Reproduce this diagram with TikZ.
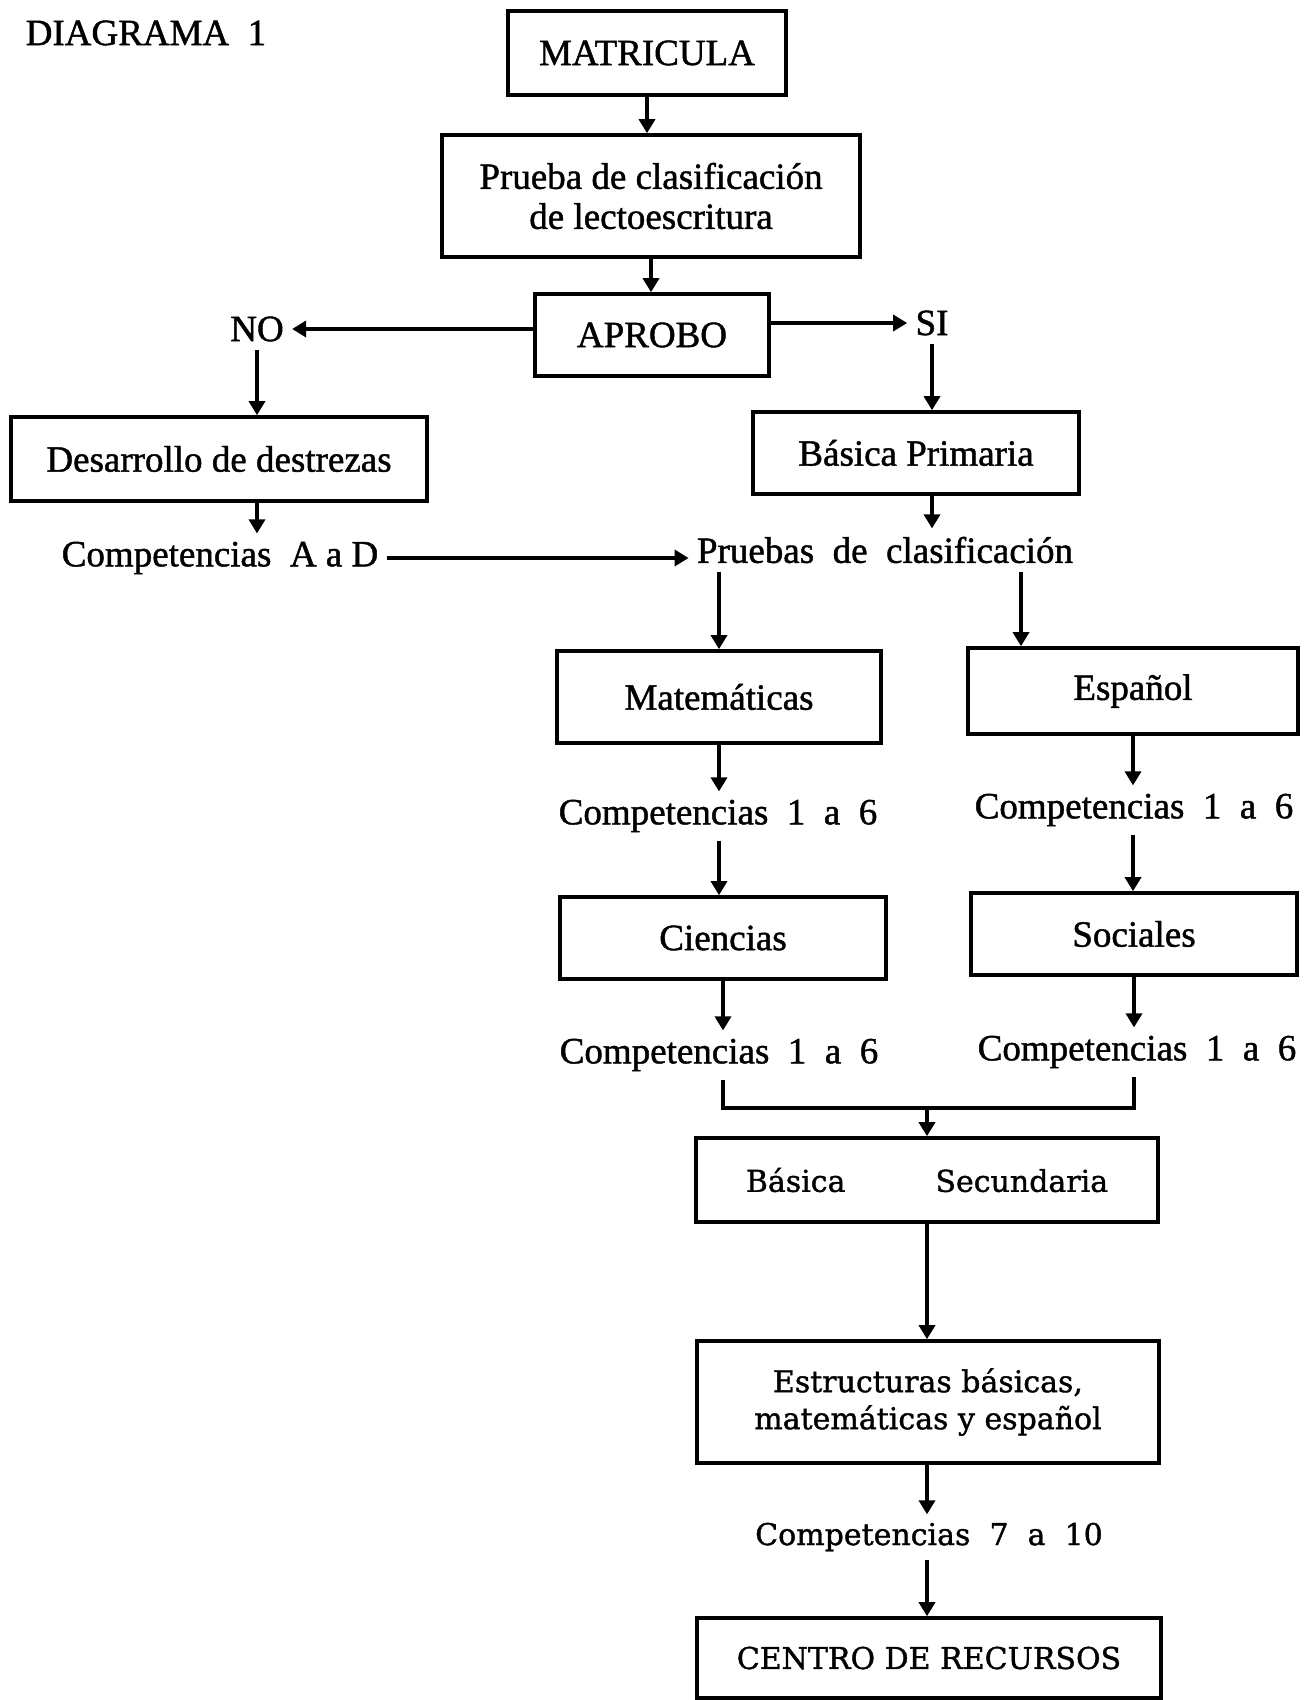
\documentclass[tikz,border=0pt]{standalone}
\usepackage{fontspec}
\setmainfont{Liberation Serif}
\newfontfamily\timesfont{Liberation Serif}[FakeBold=1.2]
\newfontfamily\schoolfont{DejaVu Serif}[FakeBold=1.2]
\usetikzlibrary{arrows.meta}
\tikzset{
  box/.style={draw, line width=1.8pt, align=center, inner sep=0pt},
  arr/.style={line width=1.7pt, -{Triangle[length=7pt,width=8pt]}},
  lbl/.style={inner sep=4pt},
  tfont/.style={font=\timesfont\fontsize{18.5}{20}\selectfont},
  cfont/.style={font=\schoolfont\fontsize{15}{18.5}\selectfont}
}
\begin{document}
\begin{tikzpicture}[x=0.5pt,y=-0.5pt]
  \useasboundingbox (0,0) rectangle (1314,1700);
  \node[tfont] (titulo) at (146,33) {DIAGRAMA\ \ 1};
  % tronco
  \node[box,tfont,minimum width=139pt,minimum height=42pt] (matri) at (647,53) {MATRICULA};
  \node[box,tfont,minimum width=209pt,minimum height=61pt] (prueba) at (651,196)
    {Prueba de clasificación\\de lectoescritura};
  \node[box,tfont,minimum width=117pt,minimum height=41pt] (aprobo) at (652,335) {APROBO};
  \node[lbl,tfont] (no) at (257,329) {NO};
  \node[lbl,tfont] (si) at (932,323) {SI};
  % rama NO
  \node[box,tfont,minimum width=208pt,minimum height=42pt] (desarrollo) at (219,459) {Desarrollo de destrezas};
  \node[lbl,tfont] (compad) at (220,558) {Competencias\ \ A a D};
  % rama SI
  \node[box,tfont,minimum width=163pt,minimum height=41pt] (primaria) at (916,453) {Básica Primaria};
  \node[lbl,tfont] (pruebas) at (885,550) {Pruebas\ \ de\ \ clasificación};
  \node[box,tfont,minimum width=162pt,minimum height=46pt] (mate) at (719,697) {Matemáticas};
  \node[box,tfont,minimum width=165pt,minimum height=43pt] (espa) at (1133,691) {Español};
  \node[lbl,tfont] (compl1) at (718,816) {Competencias\ \ 1\ \ a\ \ 6};
  \node[lbl,tfont] (compr1) at (1134,810) {Competencias\ \ 1\ \ a\ \ 6};
  \node[box,tfont,minimum width=163pt,minimum height=41pt] (cien) at (723,938) {Ciencias};
  \node[box,tfont,minimum width=163pt,minimum height=41pt] (soci) at (1134,934) {Sociales};
  \node[lbl,tfont] (compl2) at (719,1055) {Competencias\ \ 1\ \ a\ \ 6};
  \node[lbl,tfont] (compr2) at (1137,1052) {Competencias\ \ 1\ \ a\ \ 6};
  % secundaria
  \node[box,cfont,minimum width=231pt,minimum height=42pt] (secund) at (927,1180)
    {Básica\hspace{45pt}Secundaria};
  \node[box,cfont,minimum width=231pt,minimum height=61pt] (estruc) at (928,1402)
    {Estructuras básicas,\\matemáticas y español};
  \node[lbl,cfont] (comp710) at (929,1537) {Competencias\ \ 7\ \ a\ \ 10};
  \node[box,cfont,minimum width=232pt,minimum height=40pt] (centro) at (929,1658) {CENTRO DE RECURSOS};
  \coordinate (espin) at ([xshift=-56pt]espa.north);
  \coordinate (junta) at (927,1108);
  % conectores
  \draw[arr] (matri.south) -- (matri.south |- prueba.north);
  \draw[arr] (prueba.south) -- (prueba.south |- aprobo.north);
  \draw[arr] (no.east -| aprobo.west) -- (no.east);
  \draw[arr] (si.west -| aprobo.east) -- (si.west);
  \draw[arr] (no.south) -- (no.south |- desarrollo.north);
  \draw[arr] (no.south |- desarrollo.south) -- (no.south |- compad.north);
  \draw[arr] (compad.east) -- (compad.east -| pruebas.west);
  \draw[arr] (si.south) -- (si.south |- primaria.north);
  \draw[arr] (si.south |- primaria.south) -- (si.south |- pruebas.north);
  \draw[arr] (pruebas.south -| mate.north) -- (mate.north);
  \draw[arr] (pruebas.south -| espin) -- (espin);
  \draw[arr] (mate.south) -- (mate.south |- compl1.north);
  \draw[arr] (mate.south |- compl1.south) -- (mate.south |- cien.north);
  \draw[arr] (espa.south) -- (espa.south |- compr1.north);
  \draw[arr] (espa.south |- compr1.south) -- (espa.south |- soci.north);
  \draw[arr] (cien.south) -- (cien.south |- compl2.north);
  \draw[arr] (soci.south) -- (soci.south |- compr2.north);
  \draw[line width=1.7pt] (cien.south |- compl2.south) |- (junta) -| (soci.south |- compr2.south);
  \draw[arr] (junta) -- (secund.north);
  \draw[arr] (secund.south) -- (secund.south |- estruc.north);
  \draw[arr] (secund.south |- estruc.south) -- (secund.south |- comp710.north);
  \draw[arr] (secund.south |- comp710.south) -- (secund.south |- centro.north);
\end{tikzpicture}
\end{document}
